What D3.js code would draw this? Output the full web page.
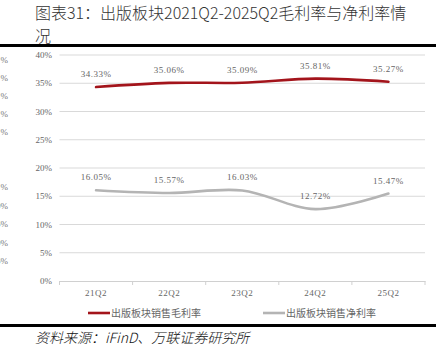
<!DOCTYPE html>
<html>
<head>
<meta charset="utf-8">
<script src="https://cdn.jsdelivr.net/npm/d3@7"></script>
<style>
  body { margin: 0; background: #fff; }
  svg { display: block; }
</style>
</head>
<body>
<div id="chart"></div>
<script>
// data
const quarters = ["21Q2", "22Q2", "23Q2", "24Q2", "25Q2"]
const grossMargin = [34.33, 35.06, 35.09, 35.81, 35.27]   // 毛利率
const netMargin   = [16.05, 15.57, 16.03, 12.72, 15.47]   // 净利率
const yTicks = [0, 5, 10, 15, 20, 25, 30, 35, 40]
const seriesNames = ["出版板块销售毛利率", "出版板块销售净利率"]
// cut-off labels of a neighbouring chart peeking in at the left edge
const ghostTop = ["%", "%", "%", "%", "%"]
const ghostBottom = ["%", "0%", "5%", "0%", "5%"]

const width = 445, height = 361
const serif = "'Liberation Serif', 'Noto Sans CJK SC', serif"
const cjk = "'Noto Sans CJK SC', 'Liberation Serif', sans-serif"

const svg = d3.select("#chart").append("svg")
  .attr("width", width)
  .attr("height", height)

// title
const title = svg.append("text")
  .attr("x", 35).attr("y", 19)
  .attr("font-family", cjk)
  .attr("font-size", 16)
  .attr("font-weight", 300)
  .attr("fill", "#333")
title.append("tspan").text("图表31：出版板块2021Q2-2025Q2毛利率与净利率情")
title.append("tspan").attr("x", 35).attr("dy", 23).text("况")

// rules
svg.append("rect").attr("x", 0).attr("y", 44).attr("width", 436).attr("height", 3).attr("fill", "#000")
svg.append("rect").attr("x", 0).attr("y", 324).attr("width", 436).attr("height", 3).attr("fill", "#000")

// ghost labels
svg.selectAll(".ghostT").data(ghostTop).enter().append("text")
  .attr("x", 8).attr("y", (d, i) => 63 + i * 18)
  .attr("text-anchor", "end")
  .attr("font-family", serif).attr("font-size", 9).attr("fill", "#777")
  .text(d => d)
svg.selectAll(".ghostB").data(ghostBottom).enter().append("text")
  .attr("x", 8).attr("y", (d, i) => 190 + i * 18.5)
  .attr("text-anchor", "end")
  .attr("font-family", serif).attr("font-size", 9).attr("fill", "#777")
  .text(d => d)

// scales
const x = d3.scaleBand().domain(quarters).range([59.5, 425])
const y = d3.scaleLinear().domain([0, 40]).range([281, 55])
const cx = d => x(d) + x.bandwidth() / 2

const g = svg.append("g")

// gridlines
g.selectAll(".grid").data(yTicks.slice(1)).enter().append("line")
  .attr("x1", 59.5).attr("x2", 425)
  .attr("y1", d => y(d)).attr("y2", d => y(d))
  .attr("stroke", "#d9d9d9").attr("stroke-width", 1)

// y axis labels
g.selectAll(".ytick").data(yTicks).enter().append("text")
  .attr("x", 52).attr("y", d => y(d) + 3)
  .attr("text-anchor", "end")
  .attr("font-family", serif).attr("font-size", 9).attr("fill", "#666")
  .text(d => d + "%")

// x axis
const xAxis = g.append("g")
  .attr("transform", "translate(0,281)")
  .call(d3.axisBottom(x).tickSize(0).tickPadding(9))
xAxis.select(".domain").attr("stroke", "#d0d0d0")
xAxis.selectAll("text")
  .attr("font-family", serif).attr("font-size", 9).attr("fill", "#666")
  .attr("letter-spacing", 0.5)
// band boundary ticks
const edges = [59.5].concat(quarters.slice(1).map(q => x(q)), [425])
g.selectAll(".bt").data(edges).enter().append("line")
  .attr("x1", d => d).attr("x2", d => d)
  .attr("y1", 281).attr("y2", 285)
  .attr("stroke", "#d0d0d0")

// lines
const line = d3.line()
  .x((d, i) => cx(quarters[i]))
  .y(d => y(d))
  .curve(d3.curveCatmullRom.alpha(0.5))

const series = [
  { name: seriesNames[0], values: grossMargin, color: "#a3141b" },
  { name: seriesNames[1], values: netMargin, color: "#b4b4b4" }
]

series.forEach(s => {
  g.append("path")
    .datum(s.values)
    .attr("d", line)
    .attr("fill", "none")
    .attr("stroke", s.color)
    .attr("stroke-width", 2.6)
    .attr("stroke-linecap", "round")

  g.selectAll(null).data(s.values).enter().append("text")
    .attr("x", (d, i) => cx(quarters[i]))
    .attr("y", d => y(d) - 10)
    .attr("text-anchor", "middle")
    .attr("font-family", serif).attr("font-size", 9).attr("fill", "#666")
    .attr("letter-spacing", 0.5)
    .text(d => d.toFixed(2) + "%")
})

// legend
const legendX = [88, 263]
series.forEach((s, i) => {
  const lg = svg.append("g").attr("transform", `translate(${legendX[i]},313)`)
  lg.append("line").attr("x1", 0).attr("x2", 22).attr("y1", 0).attr("y2", 0)
    .attr("stroke", s.color).attr("stroke-width", 2.6)
  lg.append("text").attr("x", 23).attr("y", 3.5)
    .attr("font-family", cjk).attr("font-size", 10).attr("fill", "#666")
    .text(s.name)
})

// source
svg.append("text")
  .attr("x", 35).attr("y", 343)
  .attr("font-family", cjk).attr("font-size", 14)
  .attr("font-weight", 300)
  .attr("font-style", "italic").attr("fill", "#111")
  .text("资料来源：iFinD、万联证券研究所")
</script>
</body>
</html>
